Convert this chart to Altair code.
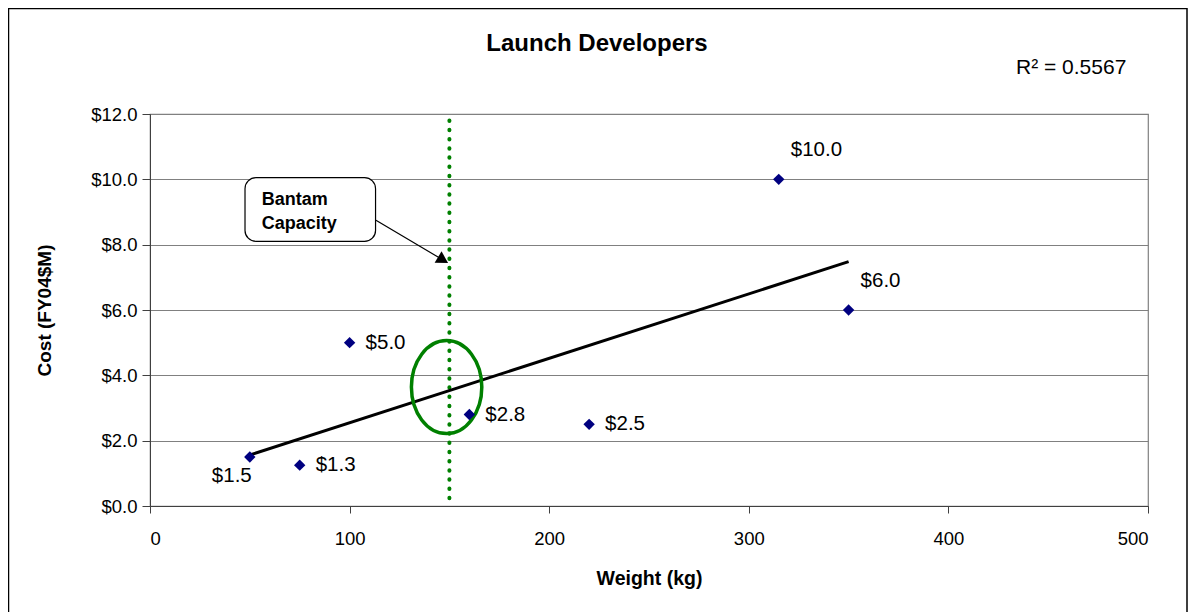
import altair as alt
import pandas as pd

# ---- data ----
weights = [50, 75, 100, 160, 220, 315, 350]
costs = [1.5, 1.25, 5.0, 2.8, 2.5, 10.0, 6.0]
cost_labels = ["$1.5", "$1.3", "$5.0", "$2.8", "$2.5", "$10.0", "$6.0"]

trend_weights = [50, 350]
trend_costs = [1.56, 7.48]

bantam_weight = [150]
bantam_top = [11.8]

x_ticks = [0, 100, 200, 300, 400, 500]
y_ticks = [0, 2, 4, 6, 8, 10, 12]

title_text = ["Launch Developers"]
r2_text = ["R² = 0.5567"]
callout_lines = ["Bantam", "Capacity"]

# callout / ellipse anchors in data units
callout_box_x = [47.6, 113.0]
callout_box_y = [8.1, 10.05]
arrow_x = [113.2, 146.0]
arrow_y = [8.75, 7.56]
ellipse_center = [148.6, 3.64]

FONT = "Liberation Sans"

pts = pd.DataFrame({"w": weights, "c": costs, "lab": cost_labels})
trend = pd.DataFrame({"w": trend_weights, "c": trend_costs})

xs = alt.Scale(domain=[0, 500], nice=False, zero=False)
ys = alt.Scale(domain=[0, 12], nice=False, zero=False)

X = alt.X("w:Q", scale=xs, title="Weight (kg)",
          axis=alt.Axis(values=x_ticks, grid=False, format="d",
                        labelFontSize=18.5, labelPadding=16, tickSize=7,
                        titleFontSize=19.5, titleFontWeight="bold", titlePadding=22,
                        domainColor="#404040", tickColor="#404040"))
Y = alt.Y("c:Q", scale=ys, title="Cost (FY04$M)",
          axis=alt.Axis(values=y_ticks, grid=True, format="$.1f",
                        labelFontSize=18.5, labelPadding=5, tickSize=8,
                        titleFontSize=19, titleFontWeight="bold", titlePadding=36,
                        gridColor="#808080", gridWidth=1,
                        domainColor="#404040", tickColor="#404040"))

base = alt.Chart(pts)

# dotted Bantam capacity line
bantam = alt.Chart(pd.DataFrame({"w": bantam_weight, "c": bantam_top, "c0": [0]})).mark_rule(
    color="#008000", strokeWidth=4, strokeDash=[0.5, 8.7], strokeCap="round"
).encode(x=alt.X("w:Q", scale=xs), y=alt.Y("c:Q", scale=ys), y2="c0:Q")

trend_line = alt.Chart(trend).mark_line(color="black", strokeWidth=3).encode(
    x=alt.X("w:Q", scale=xs), y=alt.Y("c:Q", scale=ys))

points = base.mark_point(shape="diamond", filled=True, color="#000080",
                         size=130, opacity=1).encode(x=X, y=Y)

LABEL_SIZE = 20.5

lab_right = base.transform_filter(
    alt.FieldOneOfPredicate(field="w", oneOf=[75, 100, 160, 220])
).mark_text(align="left", baseline="middle", dx=16, dy=0, fontSize=LABEL_SIZE, font=FONT,
            color="black").encode(x=alt.X("w:Q", scale=xs), y=alt.Y("c:Q", scale=ys), text="lab:N")

lab_above = base.transform_filter(
    alt.FieldOneOfPredicate(field="w", oneOf=[315, 350])
).mark_text(align="left", baseline="middle", dx=12, dy=-29, fontSize=LABEL_SIZE, font=FONT,
            color="black").encode(x=alt.X("w:Q", scale=xs), y=alt.Y("c:Q", scale=ys), text="lab:N")

lab_below = base.transform_filter(
    alt.FieldOneOfPredicate(field="w", oneOf=[50])
).mark_text(align="center", baseline="middle", dx=-18, dy=19, fontSize=LABEL_SIZE, font=FONT,
            color="black").encode(x=alt.X("w:Q", scale=xs), y=alt.Y("c:Q", scale=ys), text="lab:N")

# ellipse around the Bantam point
ellipse_path = "M-0.757,0A0.757,1,0,1,0,0.757,0A0.757,1,0,1,0,-0.757,0Z"
ellipse = alt.Chart(pd.DataFrame({"w": [ellipse_center[0]], "c": [ellipse_center[1]]})).mark_point(
    shape=ellipse_path, filled=False, stroke="#008000", strokeWidth=3.5, size=8649, opacity=1
).encode(x=alt.X("w:Q", scale=xs), y=alt.Y("c:Q", scale=ys))

# callout box
box = alt.Chart(pd.DataFrame({"x1": [callout_box_x[0]], "x2": [callout_box_x[1]],
                              "y1": [callout_box_y[0]], "y2": [callout_box_y[1]]})).mark_rect(
    fill="white", stroke="black", strokeWidth=1.2, cornerRadius=11
).encode(x=alt.X("x1:Q", scale=xs), x2="x2:Q", y=alt.Y("y1:Q", scale=ys), y2="y2:Q")

callout_text = alt.Chart(pd.DataFrame({"t": ["\n".join(callout_lines)], "w": [56.0], "c": [9.38]})).mark_text(
    align="left", baseline="middle", fontSize=18, fontWeight="bold", font=FONT,
    lineBreak="\n", lineHeight=24, color="black"
).encode(x=alt.X("w:Q", scale=xs), y=alt.Y("c:Q", scale=ys), text="t:N")

arrow = alt.Chart(pd.DataFrame({"w": arrow_x, "c": arrow_y})).mark_line(
    color="black", strokeWidth=1.2
).encode(x=alt.X("w:Q", scale=xs), y=alt.Y("c:Q", scale=ys))

arrow_head = alt.Chart(pd.DataFrame({"w": [arrow_x[1]], "c": [arrow_y[1]]})).mark_point(
    shape="triangle", filled=True, color="black", size=180, angle=121, opacity=1
).encode(x=alt.X("w:Q", scale=xs), y=alt.Y("c:Q", scale=ys))

# chart title, R², outer frame as annotations
title = alt.Chart(pd.DataFrame({"t": title_text})).mark_text(
    align="center", baseline="middle", fontSize=24, fontWeight="bold", font=FONT, color="black"
).encode(x=alt.value(447), y=alt.value(-70), text="t:N")

r2 = alt.Chart(pd.DataFrame({"t": r2_text})).mark_text(
    align="left", baseline="middle", fontSize=21, font=FONT, color="black"
).encode(x=alt.value(866), y=alt.value(-46), text="t:N")

frame = alt.Chart(pd.DataFrame({"k": [0]})).mark_rect(
    fill=None, stroke="black", strokeWidth=1.5
).encode(x=alt.value(-141.5), x2=alt.value(1037), y=alt.value(-105.5), y2=alt.value(520))

chart = alt.layer(
    frame, bantam, trend_line, ellipse, points, lab_right, lab_above, lab_below,
    arrow, box, callout_text, arrow_head, title, r2
).properties(
    width=998, height=392,
    padding={"left": 142, "top": 106, "right": 40, "bottom": 106},
    autosize=alt.AutoSizeParams(type="none"),
    background="white",
).configure_view(
    stroke="#808080", strokeWidth=1.2
).configure_axis(
    labelFont=FONT, titleFont=FONT, labelColor="black", titleColor="black"
)

chart.save("out.html", embed_options={"renderer": "svg", "actions": False})
